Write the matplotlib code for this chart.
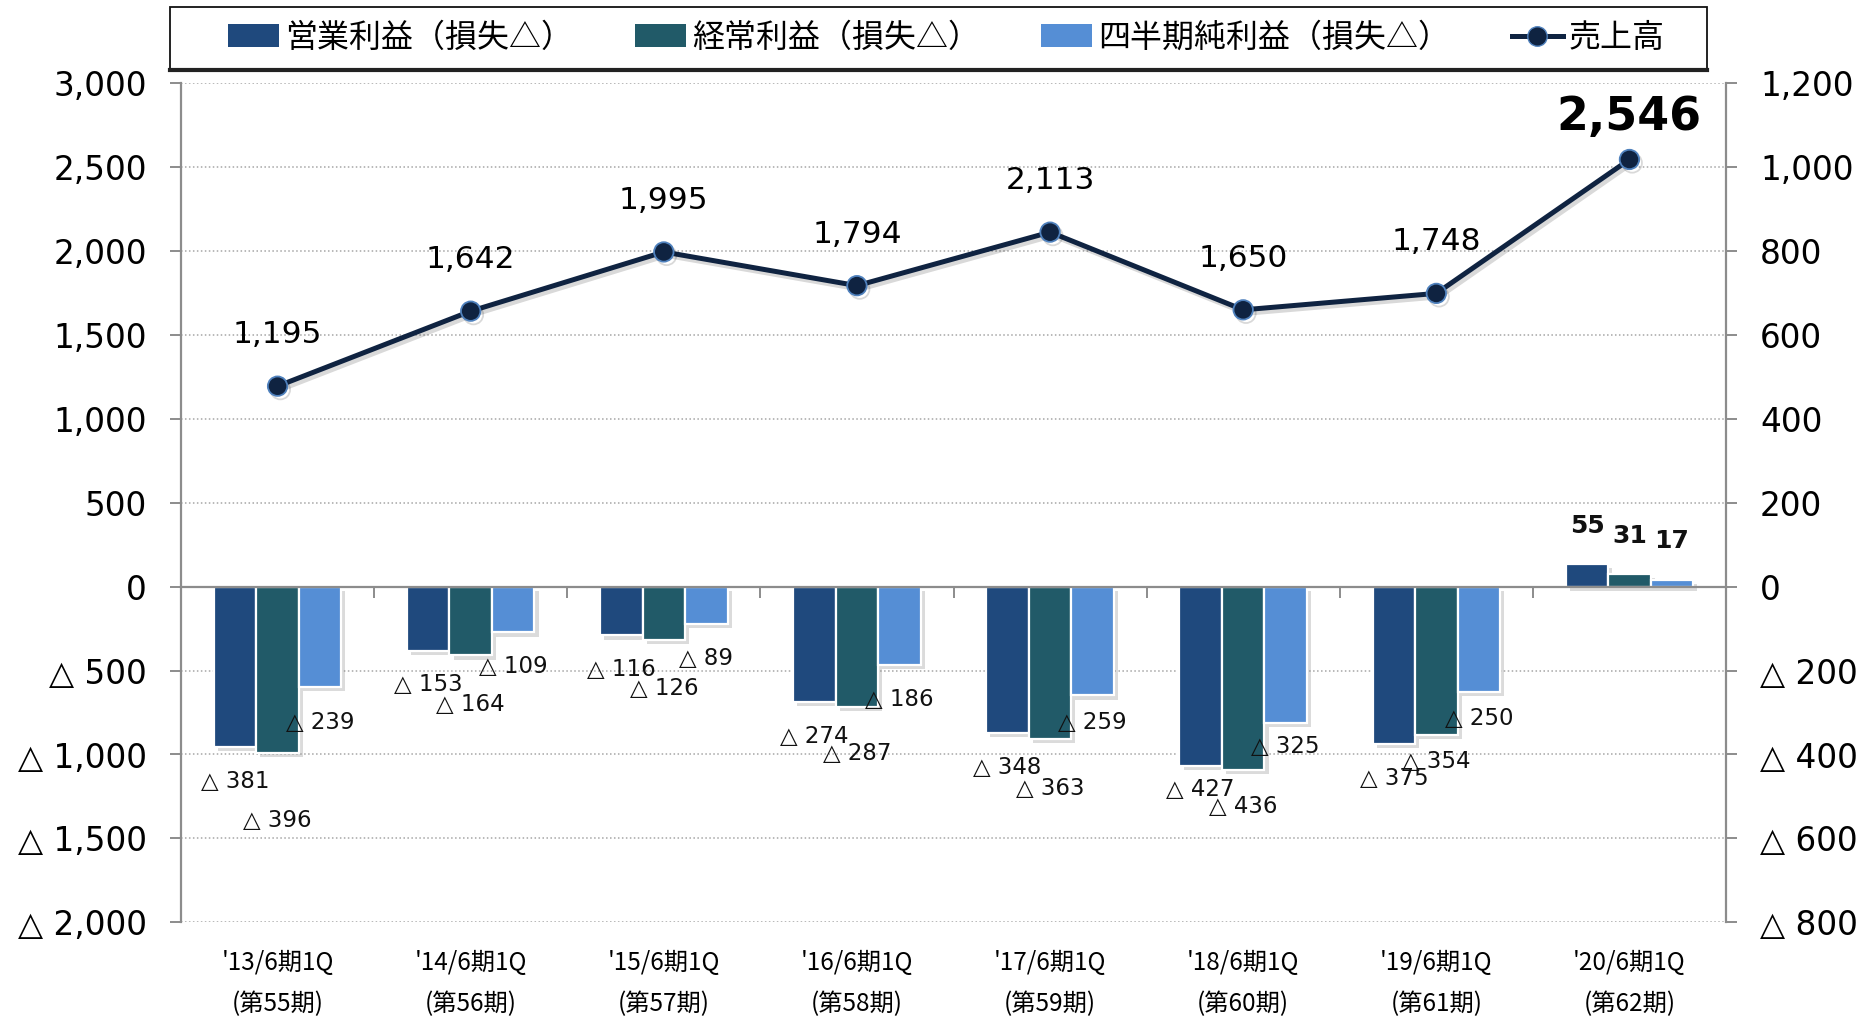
import matplotlib
matplotlib.use("Agg")
import matplotlib.pyplot as plt
import matplotlib.patheffects as pe
from matplotlib.patches import Patch, Rectangle
from matplotlib.lines import Line2D
from matplotlib.ticker import FuncFormatter, MultipleLocator

plt.rcParams['font.family'] = ['DejaVu Sans', 'Noto Sans CJK JP']
JP = ['Noto Sans CJK JP', 'DejaVu Sans']

# data (百万円)
periods = ["'13/6期1Q", "'14/6期1Q", "'15/6期1Q", "'16/6期1Q",
           "'17/6期1Q", "'18/6期1Q", "'19/6期1Q", "'20/6期1Q"]
terms = ["(第55期)", "(第56期)", "(第57期)", "(第58期)",
         "(第59期)", "(第60期)", "(第61期)", "(第62期)"]
sales = [1195, 1642, 1995, 1794, 2113, 1650, 1748, 2546]
op_income = [-381, -153, -116, -274, -348, -427, -375, 55]
ord_income = [-396, -164, -126, -287, -363, -436, -354, 31]
net_income = [-239, -109, -89, -186, -259, -325, -250, 17]

series_names = ["営業利益（損失△）", "経常利益（損失△）", "四半期純利益（損失△）"]
sales_name = "売上高"

# label nudges (points from bar end to text baseline), hand tuned to the original
label_gap = [
    [29.5, 29, 29.5, 29.5, 29.5, 22, 29.5, 22],
    [53.5, 40, 40, 38, 40, 31.5, 23.5, 22],
    [30.5, 29.5, 29.5, 30, 24.5, 21.5, 24, 22.5],
]

C_OP = '#1f497d'
C_ORD = '#215a68'
C_NET = '#558ed5'
C_LINE = '#0f2341'
C_MEC = '#4f81bd'
C_AX = '#8c8c8c'


def tri_fmt(v, pos):
    if v < 0:
        return "△ {:,}".format(int(round(-v)))
    return "{:,}".format(int(round(v)))


fig = plt.figure(figsize=(18.73, 10.21), dpi=100)
ax = fig.add_axes([181 / 1873, 1 - 922.3 / 1021, 1545 / 1873, 839 / 1021])
ax_l = ax.twinx()

# bars on the right scale
ax.set_ylim(-800, 1200)
ax.set_xlim(-0.5, len(periods) - 0.5)
ax.yaxis.tick_right()
ax.yaxis.set_major_locator(MultipleLocator(200))
ax.yaxis.set_major_formatter(FuncFormatter(tri_fmt))

ax_l.set_ylim(-2000, 3000)
ax_l.yaxis.tick_left()
ax_l.yaxis.set_major_locator(MultipleLocator(500))
ax_l.yaxis.set_major_formatter(FuncFormatter(tri_fmt))

ax.grid(axis='y', color='#a6a6a6', linestyle=(0, (1, 1.6)), linewidth=1.1)
ax.set_axisbelow(True)

w = 0.22
shadow = [pe.withSimplePatchShadow(offset=(3, -3), shadow_rgbFace='#8a8a8a', alpha=0.3)]
xs = list(range(len(periods)))
for k, (vals, col) in enumerate(zip([op_income, ord_income, net_income], [C_OP, C_ORD, C_NET])):
    off = (k - 1) * w
    bars = ax.bar([x + off for x in xs], vals, width=w, color=col,
                  edgecolor='white', linewidth=1.6, zorder=2)
    for b in bars:
        b.set_path_effects(shadow)
    for i, v in enumerate(vals):
        if v < 0:
            ax.annotate("△ {}".format(-v), xy=(i + off, v), xytext=(0, -label_gap[k][i]),
                        textcoords='offset points', ha='center', va='baseline',
                        fontsize=16.5, color='#111111', zorder=5)
        else:
            ax.annotate(str(v), xy=(i + off, v), xytext=(0, label_gap[k][i]),
                        textcoords='offset points', ha='center', va='baseline',
                        fontsize=18, fontweight='bold', color='#111111', zorder=5)

# sales line on the left scale
ax_l.plot(xs, sales, color=C_LINE, linewidth=3.6, marker='o', markersize=14,
          markerfacecolor=C_LINE, markeredgecolor=C_MEC, markeredgewidth=1.3,
          zorder=4,
          path_effects=[pe.SimpleLineShadow(offset=(2, -2.5), alpha=0.15), pe.Normal()])
for i, v in enumerate(sales):
    if i == len(sales) - 1:
        ax_l.annotate("{:,}".format(v), xy=(i, v), xytext=(0, 21), textcoords='offset points',
                      ha='center', va='baseline', fontsize=33, fontweight='bold', color='black')
    else:
        ax_l.annotate("{:,}".format(v), xy=(i, v), xytext=(0, 31), textcoords='offset points',
                      ha='center', va='baseline', fontsize=22.5, color='black')

# x axis: zero line with category boundary ticks, labels at the bottom
ax.set_xticks(xs)
ax.set_xticklabels([p + "\n" + t for p, t in zip(periods, terms)])
ax.set_xticks([x + 0.5 for x in xs[:-1]], minor=True)
ax.spines['bottom'].set_position(('data', 0))
ax.spines['bottom'].set_color(C_AX)
ax.spines['bottom'].set_linewidth(1.6)
ax.tick_params(axis='x', which='major', length=0, labelbottom=False)
ax.tick_params(axis='x', which='minor', length=8, width=1.4, color=C_AX, direction='out')

ax_l.xaxis.set_visible(True)
ax_l.tick_params(axis='x', which='both', length=0, labelbottom=True, pad=20)
for lab in ax_l.get_xticklabels():
    lab.set_family(JP)
    lab.set_fontsize(17.5)
    lab.set_linespacing(1.75)

for a in (ax, ax_l):
    a.spines['top'].set_visible(False)
ax_l.spines['bottom'].set_visible(False)
ax.spines['left'].set_visible(False)
ax_l.spines['right'].set_visible(False)
ax.spines['right'].set_color(C_AX)
ax.spines['right'].set_linewidth(1.6)
ax_l.spines['left'].set_color(C_AX)
ax_l.spines['left'].set_linewidth(1.6)

ax.tick_params(axis='y', length=8, width=1.4, color=C_AX, pad=16.5, labelsize=23.5)
ax_l.tick_params(axis='y', length=8, width=1.4, color=C_AX, pad=16.5, labelsize=23.5)

# legend in a box across the top
box = Rectangle((170 / 1873, 1 - 70 / 1021), (1707 - 170) / 1873, 63 / 1021,
                transform=fig.transFigure, facecolor='white', edgecolor='#111111',
                linewidth=1.3, zorder=0)
fig.patches.append(box)
fig.add_artist(Line2D([170 / 1873, 1707 / 1873], [1 - 70 / 1021, 1 - 70 / 1021],
                      transform=fig.transFigure, color='#222222', linewidth=3))

handles = [Patch(facecolor=C_OP), Patch(facecolor=C_ORD), Patch(facecolor=C_NET),
           Line2D([], [], color=C_LINE, linewidth=3.6, marker='o', markersize=14,
                  markerfacecolor=C_LINE, markeredgecolor=C_MEC)]
leg = fig.legend(handles, series_names + [sales_name], ncol=4, mode='expand',
                 loc='center left',
                 bbox_to_anchor=(228 / 1873, 1 - 66 / 1021, (1665 - 228) / 1873, 56 / 1021),
                 frameon=False, borderaxespad=0, borderpad=0,
                 handlelength=1.6, handleheight=0.72, handletextpad=0.2,
                 prop={'family': JP, 'size': 23})

fig.savefig('out.png', dpi=100)
